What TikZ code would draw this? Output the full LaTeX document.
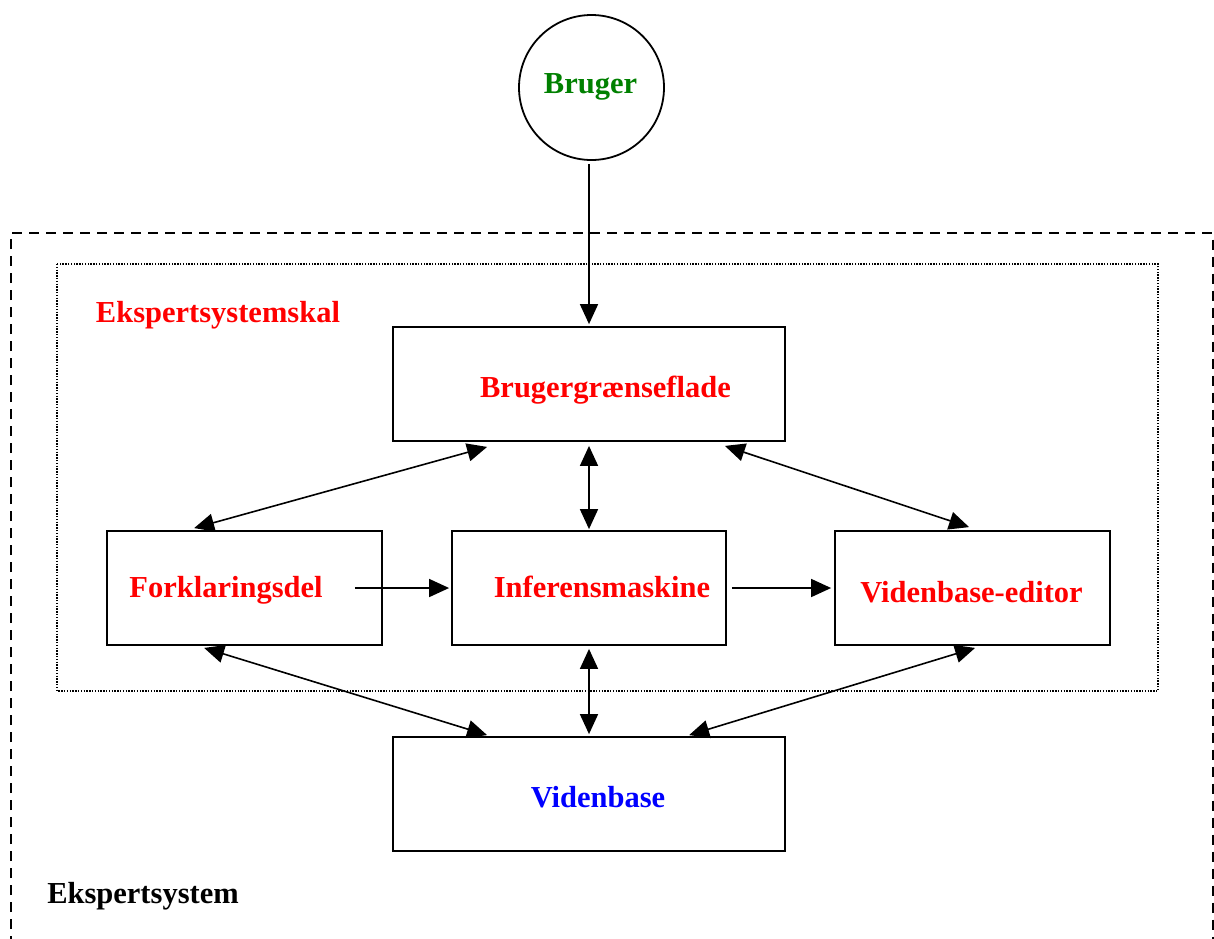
\documentclass[tikz,border=0pt]{standalone}
\usepackage{fontspec}
\setmainfont{Liberation Serif}
\usetikzlibrary{arrows.meta,calc}
\definecolor{tgreen}{RGB}{0,128,0}
\definecolor{tred}{RGB}{255,0,0}
\definecolor{tblue}{RGB}{0,0,255}
\begin{document}
\begin{tikzpicture}[x=1pt,y=-1pt,
  boxnode/.style={draw,line width=1.8pt,minimum height=114pt,inner sep=0pt},
  lbl/.style={anchor=base,inner sep=0pt,font=\fontsize{30.5}{36}\selectfont\bfseries},
  conn/.style={line width=1.6pt,-{Triangle[length=20pt,width=18pt]}},
  bconn/.style={line width=1.6pt,{Triangle[length=20pt,width=18pt]}-{Triangle[length=20pt,width=18pt]}}]
\useasboundingbox (0,0) rectangle (1214,938);
\clip (0,0) rectangle (1214,938);
% outer dashed frame (open below the picture)
\draw[line width=2pt,dash pattern=on 10pt off 7pt] (11,980) -- (11,233) -- (1212.5,233) -- (1212.5,980);
% inner dotted frame
\draw[line width=1.3pt,dash pattern=on 1.4pt off 1.4pt] (57,264) rectangle (1158,691);
% user circle
\node[draw,circle,line width=1.8pt,minimum size=145pt,inner sep=0pt] (br) at (591.5,87.5) {};
% boxes
\node[boxnode,minimum width=392pt] (bg) at (589,384) {};
\node[boxnode,minimum width=275pt] (fk) at (244.5,588) {};
\node[boxnode,minimum width=274pt] (ink) at (589,588) {};
\node[boxnode,minimum width=275pt] (ve) at (972.5,588) {};
\node[boxnode,minimum width=392pt] (vb) at (589,794) {};
% labels
\node[lbl,text=tgreen] (tbr) at (590.5,93) {Bruger};
\node[lbl,text=tred] (tes) at (218,322) {Ekspertsystemskal};
\node[lbl,text=tred] (tbg) at (605.5,397) {Brugergrænseflade};
\node[lbl,text=tred] (tfk) at (226,597) {Forklaringsdel};
\node[lbl,text=tred] (tink) at (602,597) {Inferensmaskine};
\node[lbl,text=tred] (tve) at (971.5,602) {Videnbase-editor};
\node[lbl,text=tblue] (tvb) at (598,807) {Videnbase};
\node[lbl,text=black] (tsys) at (143,903) {Ekspertsystem};
% connectors
\draw[conn] ($(bg.north |- br.south)+(0,3)$) -- ($(bg.north)+(0,-2)$);
\draw[bconn] ($(bg.south west)+(95,5)$) -- ($(fk.north west)+(88,-2)$);
\draw[bconn] ($(bg.south)+(0,4)$) -- ($(ink.north)+(0,-1)$);
\draw[bconn] ($(bg.south east)+(-61,4)$) -- ($(ve.north west)+(135,-3)$);
\draw[conn] ($(fk.east)+(-28,0)$) -- ($(ink.west)+(-2,0)$);
\draw[conn] ($(ink.east)+(5,0)$) -- ($(ve.west)+(-3,0)$);
\draw[bconn] ($(fk.south west)+(98,2)$) -- ($(vb.north west)+(95,-1)$);
\draw[bconn] ($(ink.south)+(0,3)$) -- ($(vb.north)+(0,-2)$);
\draw[bconn] ($(ve.south west)+(141,2)$) -- ($(vb.north west)+(297,-1)$);
\end{tikzpicture}
\end{document}
